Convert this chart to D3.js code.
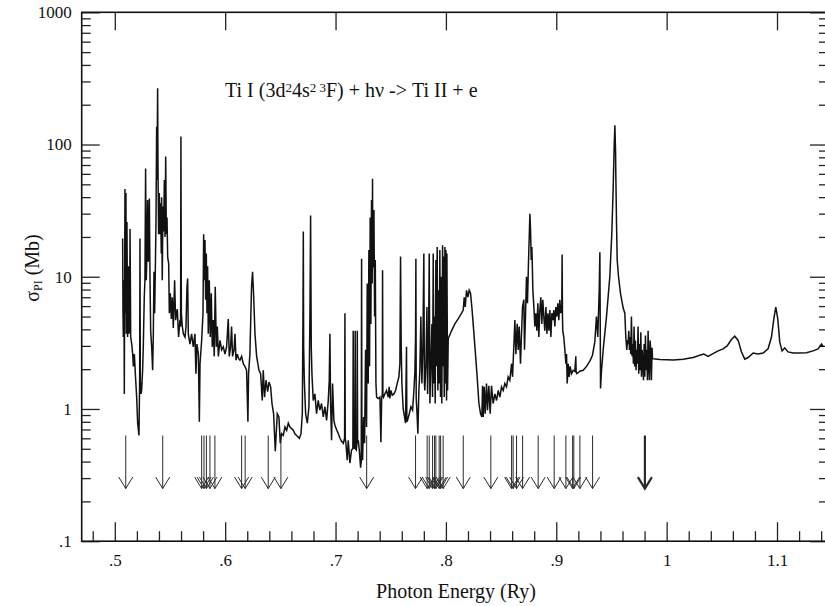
<!DOCTYPE html>
<html>
<head>
<meta charset="utf-8">
<script src="https://d3js.org/d3.v7.min.js"></script>
<style>
  body { margin: 0; background: #fff; }
  text { font-family: "Liberation Serif", "Times New Roman", serif; fill: #111; }
</style>
</head>
<body>
<div id="chart"></div>
<script>
// photoionization cross section, [energy (Ry), sigma (Mb)]
var spectrumLow = [
  [.5071,19.5],[.5074,5.3],[.5077,3.5],[.5083,9.4],[.5086,1.3],[.5092,46],[.5095,5.3],[.5101,43],[.5104,3.7],[.5110,26],
  [.5116,3.5],[.5123,12],[.5129,3.7],[.5135,5.3],[.5138,23],[.5144,3.5],[.5153,3.1],[.5162,2.6],[.5168,2.1],[.5177,2.6],
  [.5186,1.85],[.5198,1.23],[.5207,0.78],[.5219,0.63],[.5225,1.65],[.5228,19.5],[.5231,1.65],[.5237,1.3],[.5243,1.38],[.5252,1.96],
  [.5258,2.95],[.5267,7],[.5273,9.4],[.5279,66],[.5285,9.4],[.5291,15],[.5297,38],[.5303,13],[.5313,39],[.5319,9.4],
  [.5325,3.9],[.5334,2.95],[.5343,1.96],[.5349,3.7],[.5355,10.9],[.5361,5.3],[.5367,11.2],[.5373,25],[.5379,136],[.5382,54],
  [.5388,266],[.5391,72],[.5397,21],[.5403,43],[.5409,21],[.5415,36],[.5421,15],[.5424,40],[.5430,9.4],[.5436,34],
  [.5442,22],[.5449,54],[.5455,20],[.5461,81],[.5467,21],[.5473,28],[.5479,14],[.5488,12.6],[.5494,5.3],[.5503,7.5],
  [.5512,4.8],[.5521,7],[.5530,4.1],[.5542,9.4],[.5551,4.7],[.5566,5.7],[.5578,3.5],[.5590,4.7],[.5596,4.2],[.5599,115],
  [.5603,5.3],[.5612,4.2],[.5621,3.7],[.5636,3.5],[.5645,4.2],[.5654,8.4],[.5660,9.7],[.5666,3.7],[.5681,3.1],[.5696,3.7],
  [.5711,2.95],[.5726,3.7],[.5735,1.85],[.5744,3.1],[.5757,2.6],[.5766,0.8],[.5772,2.2],[.5787,3.3],[.5799,5.3],[.5805,21],
  [.5811,9.4],[.5817,19],[.5823,6.7],[.5829,15],[.5835,5.3],[.5841,12],[.5847,3.7],[.5856,9.4],[.5865,3.5],[.5874,7.5],
  [.5883,2.95],[.5892,4.7],[.5901,2.5],[.5910,8.4],[.5920,2.95],[.5929,4.2],[.5938,2.5],[.5953,3.3],[.5968,2.8],[.5983,2.95],
  [.5998,2.6],[.6013,2.95],[.6028,4.8],[.6037,2.5],[.6049,2.95],[.6058,4.2],[.6067,2.5],[.6080,2.8],[.6089,3.7],[.6098,2.34],
  [.6110,2.6],[.6122,2.4],[.6134,2.34],[.6149,2.5],[.6164,2.2],[.6179,2.1],[.6194,1.96],[.6206,0.8],[.6212,1.85],[.6224,2.6],
  [.6233,5.3],[.6239,8.4],[.6248,10.9],[.6257,7.5],[.6270,3.7],[.6285,2.5],[.6306,1.96],[.6321,1.85],[.6336,1.16],[.6345,1.96],
  [.6357,1.23],[.6370,1.65],[.6385,1.35],[.6397,1.6],[.6412,1.47],[.6424,1.1],[.6439,0.92],[.6454,0.48],[.6472,0.92],[.6487,0.87],
  [.6499,0.55],[.6511,0.65],[.6526,0.63],[.6542,0.73],[.6557,0.69],[.6572,0.78],[.6587,0.73],[.6602,0.71],[.6617,0.69],[.6632,0.65],
  [.6647,0.63],[.6672,0.6],[.6687,0.65],[.6699,0.92],[.6705,5.3],[.6708,22],[.6711,2.95],[.6717,1.65],[.6729,0.92],[.6744,0.78],
  [.6759,1.04],[.6768,5.3],[.6774,29],[.6780,2.95],[.6786,1.85],[.6798,1.16],[.6813,1.3],[.6828,0.92],[.6843,1.16],[.6858,0.98],
  [.6873,1.1],[.6889,0.87],[.6904,1.04],[.6919,0.82],[.6934,1.16],[.6943,1.65],[.6949,3.7]
];

var spectrumMid = [
  [.6955,1.1],[.6964,0.58],[.6973,1.56],[.6985,0.82],[.6995,0.75],[.7009,0.7],[.7025,0.65],[.7040,0.6],[.7055,0.57],[.7070,0.55],
  [.7082,0.6],[.7085,5.3],[.7088,0.6],[.7094,0.55],[.7106,0.41],[.7115,0.58],[.7130,0.39],[.7145,0.49],[.7157,0.5],[.7160,3.9],
  [.7163,0.5],[.7166,0.55],[.7175,0.5],[.7178,3.9],[.7181,0.5],[.7188,0.49],[.7194,0.55],[.7197,3.9],[.7200,0.55],[.7206,0.58],
  [.7215,0.49],[.7227,0.36],[.7233,0.4],[.7236,13.7],[.7239,0.45],[.7245,0.41],[.7254,0.87],[.7263,0.55],[.7272,2.8],[.7281,0.73],
  [.7287,8.9],[.7296,1.56],[.7302,15.9],[.7308,2.1],[.7314,28],[.7320,4.4],[.7326,38],[.7332,8.9],[.7335,55],[.7338,11.9],
  [.7341,11.9],[.7348,32],[.7354,5.0],[.7360,13.4],[.7366,1.56],[.7372,1.23],[.7387,1.2],[.7402,1.23],[.7411,0.56],[.7418,1.2],
  [.7424,1.3],[.7426,11.2],[.7429,1.3],[.7435,1.23],[.7447,1.3],[.7462,1.38],[.7477,1.23],[.7486,1.47],[.7492,1.2],[.7502,1.38],
  [.7514,1.27],[.7529,1.3],[.7544,1.38],[.7559,1.56],[.7574,1.75],[.7583,2.2],[.7589,14.2],[.7595,3],[.7601,1.56],[.7613,1.0],
  [.7625,0.87],[.7634,0.78],[.7643,2.95],[.7646,0.8],[.7652,0.82],[.7668,0.92],[.7683,1.04],[.7698,0.98],[.7710,1.38],[.7719,1.9],
  [.7725,3.5],[.7728,13.7],[.7731,1.2],[.7737,0.98],[.7746,0.65],[.7755,1.38],[.7764,1.96],[.7773,5.0],[.7782,1.56],[.7791,2.8],
  [.7800,15],[.7805,1.6],[.7809,1.38],[.7819,2.2],[.7828,5.9],[.7834,1.3],[.7843,3.5],[.7849,15],[.7855,1.1],[.7864,2.2],
  [.7873,4.4],[.7879,1.23],[.7885,15],[.7891,1.56],[.7897,5.0],[.7903,1.1],[.7909,13.4],[.7915,2.1],[.7921,16.8],[.7927,1.38],
  [.7933,7.9],[.7939,1.56],[.7945,15.9],[.7951,1.23],[.7957,10],[.7963,1.1],[.7970,17.3],[.7976,2.1],[.7979,14.2],[.7985,1.23],
  [.7991,16.8],[.7997,1.56],[.8000,15.9],[.8006,1.16],[.8009,15],[.8015,1.38],[.8021,3.4],[.8051,3.9],[.8081,4.4],[.8111,4.8],
  [.8142,5.3],[.8157,5.6],[.8166,7.0],[.8175,5.9],[.8187,7.9],[.8199,7.0],[.8211,7.9],[.8223,7.5],[.8235,5.9],[.8247,4.4]
];

var spectrumHigh = [
  [.8265,2.8],[.8283,1.75],[.8299,1.1],[.8314,0.92],[.8326,0.87],[.8332,1.5],[.8338,0.87],[.8347,1.47],[.8356,0.92],[.8368,1.56],
  [.8377,0.98],[.8389,1.5],[.8401,0.92],[.8413,1.5],[.8428,1.1],[.8444,1.3],[.8459,1.16],[.8474,1.38],[.8489,1.23],[.8504,1.47],
  [.8519,1.38],[.8534,1.56],[.8549,1.47],[.8564,1.75],[.8579,1.65],[.8595,2.2],[.8604,1.75],[.8616,3.1],[.8625,4.7],[.8634,2.6],
  [.8646,4.4],[.8655,2.8],[.8664,4.2],[.8676,2.2],[.8685,3.7],[.8694,5.9],[.8706,6.7],[.8712,2.8],[.8721,5.0],[.8730,10],
  [.8739,6.3],[.8748,12.6],[.8755,20],[.8761,30],[.8767,22.5],[.8773,13.4],[.8779,16.8],[.8788,7.9],[.8797,5.9],[.8806,4.2],
  [.8815,5.3],[.8824,3.9],[.8833,6.3],[.8842,3.5],[.8851,5.6],[.8860,7.0],[.8869,4.4],[.8878,6.7],[.8887,5.0],[.8896,3.9],
  [.8906,5.9],[.8915,3.7],[.8924,5.3],[.8933,3.9],[.8942,5.6],[.8951,3.5],[.8960,5.3],[.8969,4.7],[.8978,5.6],[.8987,4.2],
  [.8996,5.9],[.9005,5.0],[.9014,6.3],[.9023,4.7],[.9032,6.7],[.9041,5.3],[.9050,6.0],[.9053,14.7],[.9056,5],[.9059,3.9],
  [.9068,3.5],[.9078,2.8],[.9087,2.2],[.9093,2.6],[.9099,1.56],[.9108,2.2],[.9117,1.75],[.9126,2.1],[.9138,1.85],[.9153,1.96],
  [.9168,1.93],[.9177,2.5],[.9180,1.9],[.9186,1.85],[.9198,1.88],[.9213,1.93],[.9244,1.96],[.9274,2.1],[.9304,2.3],[.9328,2.55],
  [.9349,3.2],[.9364,5.0],[.9376,3.5],[.9389,7.9],[.9395,15.3],[.9398,5],[.9401,1.43],[.9410,1.96],[.9425,2.8],[.9455,5.0],
  [.9485,10],[.9503,21],[.9515,45],[.9525,100],[.9531,140],[.9537,90],[.9540,55],[.9546,25],[.9552,13.4],[.9564,10],
  [.9582,7.5],[.9606,5.8],[.9621,5.3],[.9630,3.5],[.9639,2.8],[.9645,3.3],[.9651,3.1],
  [.9657,3.9],[.9663,2.8],[.9669,3.5],[.9675,2.6],[.9681,5.0],[.9687,2.5],[.9693,3.1],[.9699,2.2],[.9705,4.2],[.9711,2.1],
  [.9717,3.3],[.9723,1.96],[.9729,2.8],[.9735,2.2],[.9741,4.2],[.9747,1.85],[.9754,3.1],[.9760,1.96],[.9766,3.8],[.9772,1.75],
  [.9778,2.8],[.9784,2.27],[.9790,1.65],[.9796,3.1],[.9802,1.75],[.9808,3.6],[.9814,1.96],[.9820,2.8],[.9826,1.65],[.9832,3.9],
  [.9838,2.1],[.9844,1.65],[.9850,3.3],[.9856,2.8],[.9862,1.65],[.9868,2.9],[.9872,2.4]
];

var spectrumTail = [
  [.9878,2.4],[.9938,2.37],[1.006,2.35],[1.015,2.38],[1.024,2.45],[1.030,2.55],[1.0337,2.6],[1.0376,2.5],[1.042,2.62],[1.0467,2.75],
  [1.0512,2.85],[1.0548,3.0],[1.0587,3.35],[1.0617,3.55],[1.0648,3.3],[1.0678,2.7],[1.0708,2.38],[1.0738,2.45],[1.0784,2.65],[1.0829,2.6],
  [1.0874,2.65],[1.0919,2.85],[1.095,3.5],[1.0971,4.8],[1.0989,5.9],[1.1007,4.8],[1.1025,3.2],[1.1046,2.75],[1.107,2.9],[1.11,2.7],
  [1.1146,2.65],[1.1206,2.65],[1.1267,2.66],[1.1327,2.75],[1.1372,2.85],[1.1403,3.1],[1.142,2.95]
];

// positions of the arrows (thresholds)
var arrowEnergies = [0.5099, 0.5434, 0.5787, 0.5808, 0.5830, 0.5862, 0.5907, 0.6149, 0.6181, 0.6390,
  0.6505, 0.7282, 0.7725, 0.7830, 0.7849, 0.7879, 0.7897, 0.7909, 0.7939, 0.7952, 0.7975, 0.8157,
  0.8407, 0.8595, 0.8609, 0.8640, 0.8695, 0.8836, 0.8981, 0.9087, 0.9148, 0.9159, 0.9214, 0.9329];
var boldArrow = [0.9803];

var xTickValues = [0.5, 0.6, 0.7, 0.8, 0.9, 1.0, 1.1];
var xTickLabels = [".5", ".6", ".7", ".8", ".9", "1", "1.1"];
var yTickValues = [0.1, 1, 10, 100, 1000];
var yTickLabels = [".1", "1", "10", "100", "1000"];

var spectrum = spectrumLow.concat(spectrumMid, spectrumHigh, spectrumTail);

var width = 825, height = 606;
var plotLeft = 81.7, plotRight = 828, plotTop = 12.3, plotBottom = 541.2;

var svg = d3.select("#chart").append("svg")
  .attr("width", width).attr("height", height)
  .style("display", "block");

svg.append("rect").attr("width", width).attr("height", height).attr("fill", "#fff");

var x = d3.scaleLinear().domain([0.47, 1.1462]).range([plotLeft, plotRight]);
var y = d3.scaleLog().domain([0.1, 1000]).range([plotBottom, plotTop]);

// minor ticks
var xMinor = d3.range(0.48, 1.145, 0.02).filter(function(v) {
  return Math.abs(Math.round(v * 10) - v * 10) > 0.01;
});
var yMinor = [];
[0.1, 1, 10, 100].forEach(function(d) {
  for (var k = 2; k < 10; k++) yMinor.push(d * k);
});

// bottom axis
svg.append("g")
  .attr("transform", "translate(0," + plotBottom + ")")
  .call(d3.axisBottom(x).tickValues(xMinor).tickSize(-10).tickFormat(""));
svg.append("g").attr("class", "xlab")
  .attr("transform", "translate(0," + plotBottom + ")")
  .call(d3.axisBottom(x).tickValues(xTickValues).tickSize(-19).tickPadding(13)
    .tickFormat(function(d, i) { return xTickLabels[i]; }));

// top axis, major only
svg.append("g")
  .attr("transform", "translate(0," + plotTop + ")")
  .call(d3.axisTop(x).tickValues(xTickValues).tickSize(-18).tickFormat(""));

// left axis
svg.append("g")
  .attr("transform", "translate(" + plotLeft + ",0)")
  .call(d3.axisLeft(y).tickValues(yMinor).tickSize(-9).tickFormat(""));
svg.append("g").attr("class", "ylab")
  .attr("transform", "translate(" + plotLeft + ",0)")
  .call(d3.axisLeft(y).tickValues(yTickValues).tickSize(-18).tickPadding(10)
    .tickFormat(function(d, i) { return yTickLabels[i]; }));

// right axis
svg.append("g")
  .attr("transform", "translate(" + plotRight + ",0)")
  .call(d3.axisRight(y).tickValues(yMinor).tickSize(-9).tickFormat(""));
svg.append("g")
  .attr("transform", "translate(" + plotRight + ",0)")
  .call(d3.axisRight(y).tickValues(yTickValues).tickSize(-18).tickFormat(""));

svg.selectAll(".domain").remove();
svg.selectAll(".tick line").attr("stroke", "#222").attr("stroke-width", 1.3);
svg.selectAll(".xlab text, .ylab text")
  .style("font-size", "17px")
  .style("font-family", "'Liberation Serif', 'Times New Roman', serif")
  .attr("fill", "#111");

// frame
svg.append("rect")
  .attr("x", plotLeft).attr("y", plotTop)
  .attr("width", plotRight - plotLeft).attr("height", plotBottom - plotTop)
  .attr("fill", "none").attr("stroke", "#111").attr("stroke-width", 1.6);

// curve
svg.append("clipPath").attr("id", "clip")
  .append("rect")
  .attr("x", plotLeft).attr("y", plotTop)
  .attr("width", plotRight - plotLeft).attr("height", plotBottom - plotTop);

var line = d3.line()
  .x(function(d) { return x(d[0]); })
  .y(function(d) { return y(d[1]); });

svg.append("path")
  .datum(spectrum)
  .attr("clip-path", "url(#clip)")
  .attr("d", line)
  .attr("fill", "none")
  .attr("stroke", "#111")
  .attr("stroke-width", 1.5);

// arrows
function drawArrow(e, w) {
  var ax = x(e), yTop = y(0.63), yTip = y(0.25);
  var g = svg.append("g")
    .attr("stroke", "#2a2a2a").attr("stroke-width", w).attr("fill", "none");
  g.append("line").attr("x1", ax).attr("x2", ax).attr("y1", yTop).attr("y2", yTip);
  g.append("polyline")
    .attr("points", [[ax - 7, yTip - 11.5], [ax, yTip], [ax + 7, yTip - 11.5]].join(" "));
}
arrowEnergies.forEach(function(e) { drawArrow(e, 1); });
boldArrow.forEach(function(e) { drawArrow(e, 2.2); });

// labels
var title = svg.append("text")
  .attr("x", 225).attr("y", 97)
  .style("font-size", "20px");
title.append("tspan").text("Ti I (3d");
title.append("tspan").attr("baseline-shift", "40%").style("font-size", "13px").text("2");
title.append("tspan").text("4s");
title.append("tspan").attr("baseline-shift", "40%").style("font-size", "13px").text("2 3");
title.append("tspan").text("F) + h\u03bd -> Ti II + e");

svg.append("text")
  .attr("x", 456).attr("y", 598)
  .attr("text-anchor", "middle")
  .style("font-size", "20px")
  .text("Photon Energy (Ry)");

var yl = svg.append("text")
  .attr("transform", "translate(39,268) rotate(-90)")
  .attr("text-anchor", "middle")
  .style("font-size", "20px");
yl.append("tspan").text("\u03c3");
yl.append("tspan").attr("baseline-shift", "-25%").style("font-size", "12px").text("PI");
yl.append("tspan").text(" (Mb)");
</script>
</body>
</html>
